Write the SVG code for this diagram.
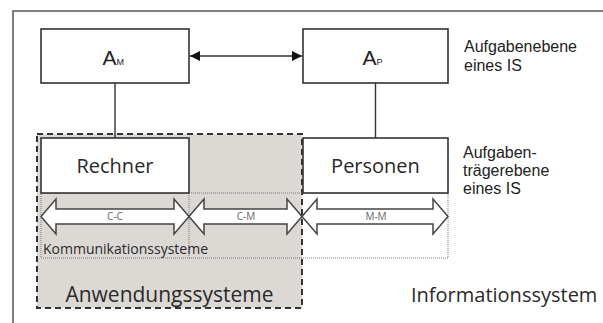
<svg xmlns="http://www.w3.org/2000/svg" width="603" height="323" viewBox="0 0 603 323">
  <defs>
    <marker id="tip" viewBox="0 0 10 10" refX="10" refY="5" markerWidth="10" markerHeight="10" markerUnits="userSpaceOnUse" orient="auto-start-reverse">
      <path d="M0,0 L10,5 L0,10 Z" fill="#111"/>
    </marker>
    <style>
      .box { fill: #fff; stroke: #333; stroke-width: 1.6; }
      .sans { font-family: "Liberation Sans", Arial, sans-serif; fill: #222; }
      .soft { font-family: "Open Sans", "Noto Sans", sans-serif; fill: #2a2a2a; }
      .link { stroke: #333; stroke-width: 1.4; fill: none; }
      .dots { stroke: #777; stroke-width: 1; stroke-dasharray: 1 1; fill: none; }
      .bigarrow { fill: #fff; stroke: #444; stroke-width: 1.5; stroke-linejoin: miter; }
      .tag { font-family: "Open Sans", "Noto Sans", sans-serif; font-size: 10px; fill: #666; text-anchor: middle; }
    </style>
  </defs>

  <rect width="603" height="323" fill="#fff"/>

  <!-- outer frame (only top and left edges visible) -->
  <path d="M13,323 L13,11 L603,11" fill="none" stroke="#555" stroke-width="1.5"/>

  <!-- application systems area -->
  <g id="anwendungssysteme">
    <rect x="37" y="134" width="265" height="174" fill="#dcd9d5" stroke="#333" stroke-width="2" stroke-dasharray="6 4"/>
    <text class="soft" x="169.5" y="302" font-size="21" text-anchor="middle">Anwendungssysteme</text>
  </g>

  <!-- communication systems area -->
  <g id="kommunikationssysteme">
    <rect class="dots" x="41" y="193" width="407" height="65"/>
    <line class="dots" x1="189" y1="193" x2="189" y2="258"/>
    <text class="soft" x="43" y="254" font-size="14">Kommunikationssysteme</text>
  </g>

  <!-- connectors -->
  <g id="connectors">
    <line class="link" x1="190" y1="56" x2="302" y2="56" marker-start="url(#tip)" marker-end="url(#tip)"/>
    <line class="link" x1="115" y1="83" x2="115" y2="138"/>
    <line class="link" x1="375.5" y1="83" x2="375.5" y2="138"/>
    <g id="cc">
      <path class="bigarrow" d="M41,216.5 L56,199 L56,209 L174,209 L174,199 L189,216.5 L174,234 L174,224 L56,224 L56,234 Z"/>
      <text class="tag" x="115" y="220">C-C</text>
    </g>
    <g id="cm">
      <path class="bigarrow" d="M189,216.5 L204,199 L204,209 L287,209 L287,199 L302,216.5 L287,234 L287,224 L204,224 L204,234 Z"/>
      <text class="tag" x="246" y="220">C-M</text>
    </g>
    <g id="mm">
      <path class="bigarrow" d="M302,216.5 L317,199 L317,209 L433,209 L433,199 L448,216.5 L433,234 L433,224 L317,224 L317,234 Z"/>
      <text class="tag" x="376" y="220">M-M</text>
    </g>
  </g>

  <g id="am">
    <rect class="box" x="41" y="29" width="148" height="54"/>
    <text class="sans" x="102.5" y="65" font-size="21">A<tspan font-size="9">M</tspan></text>
  </g>

  <g id="ap">
    <rect class="box" x="303" y="29" width="145" height="54"/>
    <text class="sans" x="362.5" y="65" font-size="21">A<tspan font-size="9">P</tspan></text>
  </g>

  <g id="rechner">
    <rect class="box" x="41" y="138" width="148" height="55"/>
    <text class="soft" x="115" y="173" font-size="20" text-anchor="middle">Rechner</text>
  </g>

  <g id="personen">
    <rect class="box" x="303" y="138" width="145" height="55"/>
    <text class="soft" x="375.5" y="173" font-size="20" text-anchor="middle">Personen</text>
  </g>

  <!-- level captions -->
  <g id="aufgabenebene">
    <text class="sans" x="464" y="52" font-size="16">Aufgabenebene</text>
    <text class="sans" x="464" y="71" font-size="16">eines IS</text>
  </g>
  <g id="aufgabentraegerebene">
    <text class="sans" x="463" y="158" font-size="16">Aufgaben-</text>
    <text class="sans" x="463" y="176" font-size="16">trägerebene</text>
    <text class="sans" x="463" y="194" font-size="16">eines IS</text>
  </g>

  <g id="informationssystem">
    <text class="soft" x="411" y="302" font-size="20">Informationssystem</text>
  </g>
</svg>
